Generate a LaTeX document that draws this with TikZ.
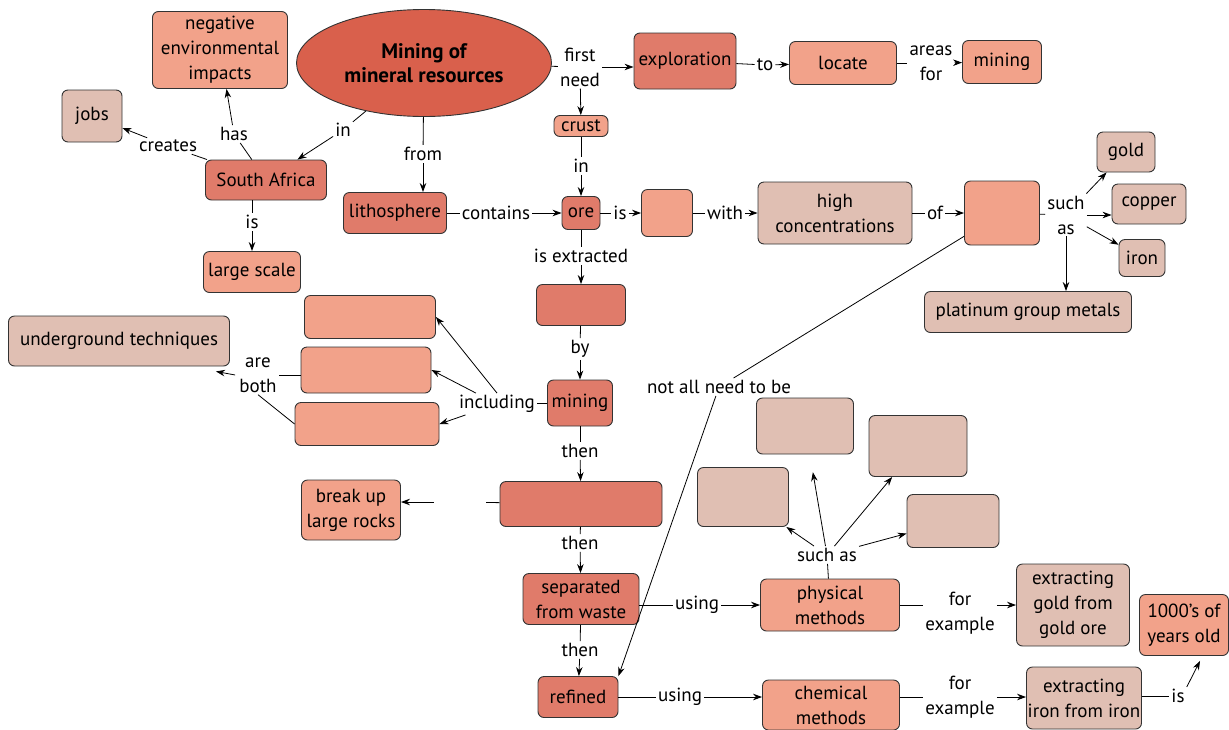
\documentclass[tikz,border=0pt]{standalone}
\usepackage{fontspec}
\setmainfont{PT Sans}
\usepackage{tikz}
\usetikzlibrary{arrows.meta,shapes.geometric}

\definecolor{topicred}{HTML}{D9604C}
\definecolor{darkred}{HTML}{E07B6A}
\definecolor{salmon}{HTML}{F2A28A}
\definecolor{pale}{HTML}{E0BFB3}

\tikzset{
  box/.style={draw=black!80, line width=0.9pt, rounded corners=6pt, align=center,
    inner sep=0pt, font=\fontsize{19}{25}\selectfont},
  sz/.style 2 args={minimum width=#1pt, minimum height=#2pt},
  darkbox/.style={box, fill=darkred},
  lightbox/.style={box, fill=salmon},
  palebox/.style={box, fill=pale},
  topic/.style={ellipse, draw=black!80, line width=0.9pt, fill=topicred, align=center,
    inner sep=0pt, minimum width=255pt, minimum height=107pt,
    font=\fontsize{21}{24}\selectfont\bfseries},
  linkword/.style={align=center, inner sep=2pt, font=\fontsize{19}{25}\selectfont},
  conn/.style={line width=0.8pt},
}

\begin{document}
\begin{tikzpicture}[x=1pt, y=-1pt, >={Stealth[length=9pt,width=6.5pt]}]
\useasboundingbox (0,0) rectangle (1229,729);
\begin{scope}
  % concepts
  \node[topic] (mmr) at (424,63) {Mining of\\mineral resources};

  \node[lightbox, sz={135}{77}] (negimp) at (220,50) {negative\\environmental\\impacts};
  \node[palebox, sz={60}{52}] (jobs) at (92,116) {jobs};
  \node[darkbox, sz={121}{40}] (safrica) at (266,180) {South Africa};
  \node[lightbox, sz={97}{41}] (largescale) at (252,272) {large scale};
  \node[darkbox, sz={103}{41}] (litho) at (395,213) {lithosphere};
  \node[lightbox, sz={54}{21}] (crust) at (581,126) {crust};
  \node[darkbox, sz={102}{56}] (explor) at (685,61) {exploration};
  \node[lightbox, sz={107}{43}] (locate) at (843,63) {locate};
  \node[lightbox, sz={79}{43}] (miningtop) at (1002,62) {mining};

  \node[darkbox, sz={38}{33}] (ore) at (581,213) {ore};
  \node[lightbox, sz={51}{47}] (oretype) at (667,213) {};
  \node[palebox, sz={154}{62}] (highconc) at (835,213) {high\\concentrations};
  \node[lightbox, sz={75}{64}] (mineral) at (1002,213) {};
  \node[palebox, sz={58}{40}] (gold) at (1126,152) {gold};
  \node[palebox, sz={74}{40}] (copper) at (1149,204) {copper};
  \node[palebox, sz={46}{37}] (iron) at (1142,258) {iron};
  \node[palebox, sz={207}{41}] (pgm) at (1028,312) {platinum group metals};

  \node[darkbox, sz={89}{41}] (extract) at (581,305) {};
  \node[darkbox, sz={65}{46}] (mining) at (580,403) {mining};
  \node[lightbox, sz={131}{43}] (methA) at (370,317) {};
  \node[lightbox, sz={130}{46}] (methB) at (366,370) {};
  \node[lightbox, sz={144}{43}] (methC) at (367,424) {};
  \node[palebox, sz={221}{50}] (underground) at (119,341) {underground techniques};

  \node[darkbox, sz={162}{45}] (crush) at (581,504) {};
  \node[lightbox, sz={99}{60}] (breakup) at (351,510) {break up\\large rocks};
  \node[darkbox, sz={116}{51}] (separated) at (581,599) {separated\\from waste};
  \node[darkbox, sz={80}{41}] (refined) at (578,697) {refined};

  \node[lightbox, sz={139}{52}] (physical) at (830,605) {physical\\methods};
  \node[lightbox, sz={137}{50}] (chemical) at (831,705) {chemical\\methods};
  \node[palebox, sz={97}{56}] (physA) at (805,426) {};
  \node[palebox, sz={98}{61}] (physB) at (918,446) {};
  \node[palebox, sz={91}{59}] (physC) at (743,497) {};
  \node[palebox, sz={92}{53}] (physD) at (953,521) {};
  \node[palebox, sz={113}{82}] (goldore) at (1073,605) {extracting\\gold from\\gold ore};
  \node[lightbox, sz={89}{61}] (years) at (1184,625) {1000's of\\years old};
  \node[palebox, sz={115}{62}] (ironore) at (1084,698) {extracting\\iron from iron};

  % linking words
  \node[linkword] (in1) at (343,130) {in};
  \node[linkword] (creates) at (168,146) {creates};
  \node[linkword] (has) at (234,134) {has};
  \node[linkword] (is1) at (252,222) {is};
  \node[linkword] (from) at (423,154) {from};
  \node[linkword] (firstneed) at (580,67) {first\\need};
  \node[linkword] (to) at (765,65) {to};
  \node[linkword] (areasfor) at (931,63) {areas\\for};
  \node[linkword] (in2) at (581,166) {in};
  \node[linkword] (contains) at (496,213) {contains};
  \node[linkword] (is2) at (620,213) {is};
  \node[linkword] (with) at (725,213) {with};
  \node[linkword] (of) at (935,213) {of};
  \node[linkword] (suchas1) at (1066,215) {such\\as};
  \node[linkword] (notall) at (719,387) {not all need to be};
  \node[linkword] (isext) at (581,256) {is extracted};
  \node[linkword] (by) at (580,349) {by};
  \node[linkword] (including) at (497,404) {including};
  \node[linkword] (areboth) at (258,375) {are\\both};
  \node[linkword] (then1) at (580,451) {then};
  \node[linkword, minimum width=52pt] (blank) at (460,502) {};
  \node[linkword] (then2) at (580,543) {then};
  \node[linkword] (then3) at (580,650) {then};
  \node[linkword] (using1) at (697,605) {using};
  \node[linkword] (using2) at (680,697) {using};
  \node[linkword] (suchas2) at (827,555) {such as};
  \node[linkword] (forex1) at (960,613) {for\\example};
  \node[linkword] (forex2) at (960,697) {for\\example};
  \node[linkword] (is3) at (1178,696) {is};

  % topic to South Africa and what it leads to
  \draw[conn] (mmr) -- (in1);
  \draw[conn,->] (in1) -- (safrica);
  \draw[conn] (safrica) -- (creates);
  \draw[conn,->] (creates) -- (jobs);
  \draw[conn] (safrica) -- (has);
  \draw[conn,->] (has) -- (negimp);
  \draw[conn] (safrica.south -| is1) -- (is1);
  \draw[conn,->] (is1) -- (largescale);

  % topic down to the lithosphere, right to exploration
  \draw[conn] (mmr) -- (from);
  \draw[conn,->] (from) -- (from |- litho.north);
  \draw[conn] (mmr) -- (firstneed);
  \draw[conn,->] (firstneed) -- (firstneed -| explor.west);
  \draw[conn,->] (firstneed) -- (crust);
  \draw[conn] (explor) -- (to);
  \draw[conn,->] (to) -- (locate);
  \draw[conn] (locate) -- (areasfor);
  \draw[conn,->] (areasfor) -- (miningtop);

  % the ore row
  \draw[conn] (crust) -- (in2);
  \draw[conn,->] (in2) -- (ore);
  \draw[conn] (litho) -- (contains);
  \draw[conn,->] (contains) -- (ore);
  \draw[conn] (ore) -- (is2);
  \draw[conn,->] (is2) -- (oretype);
  \draw[conn] (oretype) -- (with);
  \draw[conn,->] (with) -- (highconc);
  \draw[conn] (highconc) -- (of);
  \draw[conn,->] (of) -- (mineral);
  \draw[conn] (mineral) -- (suchas1);
  \draw[conn,->] (suchas1) -- (gold);
  \draw[conn,->] (suchas1) -- (suchas1 -| copper.west);
  \draw[conn,->] (suchas1) -- (iron);
  \draw[conn,->] (suchas1) -- (suchas1 |- pgm.north);
  \draw[conn] (mineral) -- (notall);
  \draw[conn,->] (notall) -- (refined.north east);

  % extraction steps
  \draw[conn] (ore) -- (isext);
  \draw[conn,->] (isext) -- (extract);
  \draw[conn] (extract) -- (by);
  \draw[conn,->] (by) -- (mining);
  \draw[conn] (mining) -- (including);
  \draw[conn,->] (including.north) -- (methA.east);
  \draw[conn,->] (including) -- (methB.east);
  \draw[conn,->] (including) -- (methC.east);
  \draw[conn] (methB.west |- areboth) -- (areboth.east);
  \draw[conn] (methC.west) -- (areboth.south);
  \draw[conn,->] ([xshift=-2pt]areboth.west) -- ([xshift=-14pt,yshift=-5pt]underground.south east);

  \draw[conn] (mining) -- (then1);
  \draw[conn,->] (then1) -- (crush);
  \draw[conn] (crush) -- (blank);
  \draw[conn,->] (blank) -- (blank -| breakup.east);
  \draw[conn] (crush) -- (then2);
  \draw[conn,->] (then2) -- (separated);
  \draw[conn] (separated) -- (then3);
  \draw[conn,->] (then3) -- (refined);

  % methods
  \draw[conn] (separated.east |- using1) -- (using1);
  \draw[conn,->] (using1) -- (physical);
  \draw[conn] (refined) -- (using2);
  \draw[conn,->] (using2) -- (using2 -| chemical.west);
  \draw[conn] (physical) -- (suchas2);
  \draw[conn,->, shorten >=18pt] (suchas2) -- (physA);
  \draw[conn,->] (suchas2) -- (physB);
  \draw[conn,->] (suchas2) -- (physC);
  \draw[conn,->] (suchas2) -- (physD);
  \draw[conn] (physical.east) -- (physical.east -| forex1.west);
  \draw[conn,->] (forex1.east |- goldore.west) -- (goldore.west);
  \draw[conn] (chemical.east |- forex2) -- (forex2);
  \draw[conn,->] (forex2) -- (forex2 -| ironore.west);
  \draw[conn] (ironore.east |- is3) -- (is3);
  \draw[conn,->] (is3.north east) -- ([xshift=16pt,yshift=-5pt]years.south);
\end{scope}
\end{tikzpicture}
\end{document}
